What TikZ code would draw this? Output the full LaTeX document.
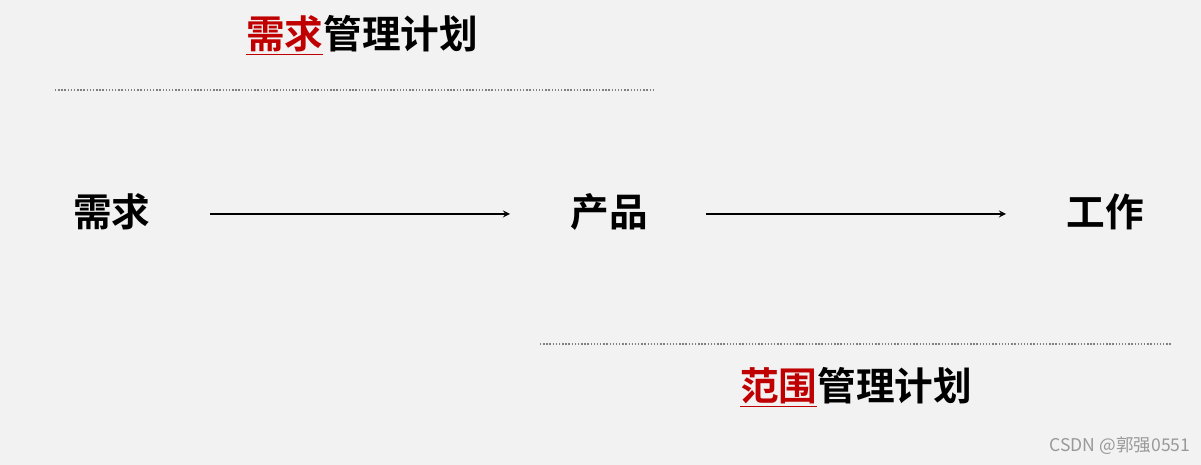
\documentclass[tikz,border=0pt]{standalone}
\usepackage{fontspec}
\newfontfamily\cjk[BoldFont={Noto Sans CJK SC Bold}]{Noto Sans CJK SC}
\usetikzlibrary{positioning}
\definecolor{bgGray}{RGB}{242,242,242}
\definecolor{keyRed}{RGB}{192,0,0}
\begin{document}
\begin{tikzpicture}[
    x=0.02cm, y=-0.02cm,
    word/.style={font=\cjk\bfseries\fontsize{22}{26}\selectfont, inner sep=0pt},
    title/.style={font=\cjk\bfseries\fontsize{22}{26}\selectfont, inner sep=0pt},
    arrow/.style={->, >=stealth, thick},
    divider/.style={densely dotted, thick, gray}
]
\fill[bgGray] (0,0) rectangle (1201,465);

\node[word] (need) at (112,212) {需求};
\node[word] (product) at (609,212) {产品};
\node[word] (work) at (1105,212) {工作};

\coordinate (a1) at (210,214);
\coordinate (a2) at (510,214);
\coordinate (b1) at (706,214);
\coordinate (b2) at (1006,214);
\draw[arrow] (a1) -- (a2);
\draw[arrow] (b1) -- (b2);

\node[title] (reqplan) at (362,35) {\textcolor{keyRed}{\underline{需求}}管理计划};
\node[title] (scopeplan) at (856,387) {\textcolor{keyRed}{\underline{范围}}管理计划};

\coordinate (d1) at (55,90);
\coordinate (d2) at (655,90);
\coordinate (e1) at (540,344);
\coordinate (e2) at (1172,344);
\draw[divider] (d1) -- (d2);
\draw[divider] (e1) -- (e2);

\node[font=\cjk\fontsize{10}{12}\selectfont, text=gray!80, inner sep=0pt] (mark) at (1120,446) {CSDN @郭强0551};
\end{tikzpicture}
\end{document}
